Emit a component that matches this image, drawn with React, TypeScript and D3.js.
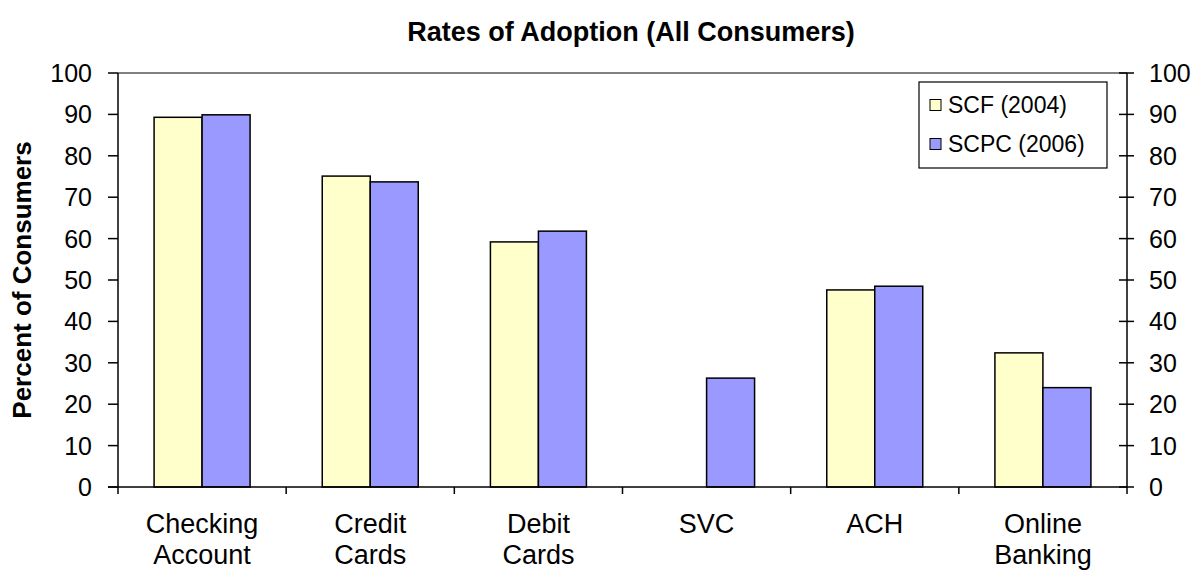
import React from 'react';
import * as d3 from 'd3';

const categories = [['Checking', 'Account'], ['Credit', 'Cards'], ['Debit', 'Cards'], ['SVC'], ['ACH'], ['Online', 'Banking']];
const scf2004 = [89.3, 75.1, 59.2, 0, 47.6, 32.4];
const scpc2006 = [89.9, 73.7, 61.8, 26.3, 48.5, 24.0];
const seriesNames = ['SCF (2004)', 'SCPC (2006)'];
const seriesColors = ['#ffffcc', '#9999ff'];
const yTicks = [0, 10, 20, 30, 40, 50, 60, 70, 80, 90, 100];

const W = 1196;
const H = 571;
const left = 118;
const right = 1127;
const top = 73;
const bottom = 487;
const font = 'Liberation Sans, Arial, sans-serif';

export default function App() {
  const idx = categories.map((_, i) => i);
  const x = d3.scaleBand<number>().domain(idx).range([left, right]).paddingInner(0).paddingOuter(0);
  const inner = d3.scaleBand<number>().domain([0, 1]).range([0, 96]);
  const y = d3.scaleLinear().domain([0, 100]).range([bottom, top]);
  const groupOffset = (x.bandwidth() - 96) / 2;
  const series = [scf2004, scpc2006];

  return (
    <svg width={W} height={H} style={{ position: 'absolute', left: 0, top: 0, fontFamily: font }}>
      <rect width={W} height={H} fill="#fff" />
      <text x={631} y={41} textAnchor="middle" fontSize={27} fontWeight="bold">Rates of Adoption (All Consumers)</text>
      <text transform={`translate(31,280) rotate(-90)`} textAnchor="middle" fontSize={26} fontWeight="bold">Percent of Consumers</text>

      {/* top border */}
      <line x1={left} x2={right} y1={top} y2={top} stroke="#808080" strokeWidth={2} />

      {/* bars */}
      {series.map((vals, s) =>
        vals.map((v, i) =>
          v > 0 ? (
            <rect key={`${s}-${i}`}
              x={(x(i) as number) + groupOffset + (inner(s) as number)}
              y={y(v)} width={inner.bandwidth()} height={y(0) - y(v)}
              fill={seriesColors[s]} stroke="#000" strokeWidth={1.5} />
          ) : null
        )
      )}

      {/* left axis */}
      <line x1={left} x2={left} y1={top} y2={bottom} stroke="#000" strokeWidth={1.5} />
      {yTicks.map(t => (
        <g key={`l${t}`}>
          <line x1={left - 10} x2={left} y1={y(t)} y2={y(t)} stroke="#000" strokeWidth={1.5} />
          <text x={92} y={y(t)} dy="0.36em" textAnchor="end" fontSize={25}>{t}</text>
        </g>
      ))}

      {/* right axis */}
      <line x1={right} x2={right} y1={top} y2={bottom} stroke="#000" strokeWidth={1.5} />
      {yTicks.map(t => (
        <g key={`r${t}`}>
          <line x1={right - 8} x2={right + 7} y1={y(t)} y2={y(t)} stroke="#000" strokeWidth={1.5} />
          <text x={1149} y={y(t)} dy="0.36em" textAnchor="start" fontSize={25}>{t}</text>
        </g>
      ))}

      {/* x axis */}
      <line x1={left - 10} x2={right} y1={bottom} y2={bottom} stroke="#000" strokeWidth={1.5} />
      {idx.map(i => (
        <line key={`xt${i}`} x1={x(i) as number} x2={x(i) as number} y1={bottom} y2={bottom + 7} stroke="#000" strokeWidth={1.5} />
      ))}
      <line x1={right} x2={right} y1={bottom} y2={bottom + 7} stroke="#000" strokeWidth={1.5} />
      {categories.map((lines, i) => (
        <text key={`c${i}`} x={(x(i) as number) + x.bandwidth() / 2} y={533} textAnchor="middle" fontSize={27}>
          {lines.map((ln, j) => (
            <tspan key={j} x={(x(i) as number) + x.bandwidth() / 2} dy={j === 0 ? 0 : 31}>{ln}</tspan>
          ))}
        </text>
      ))}

      {/* legend */}
      <rect x={919} y={82} width={188} height={86} fill="#fff" stroke="#000" strokeWidth={1.2} />
      {seriesNames.map((n, s) => (
        <g key={n} transform={`translate(930,${105 + s * 39})`}>
          <rect x={0} y={-5.5} width={11} height={11} fill={seriesColors[s]} stroke="#000" strokeWidth={1} />
          <text x={18} y={0} dy="0.36em" fontSize={23}>{n}</text>
        </g>
      ))}
    </svg>
  );
}
